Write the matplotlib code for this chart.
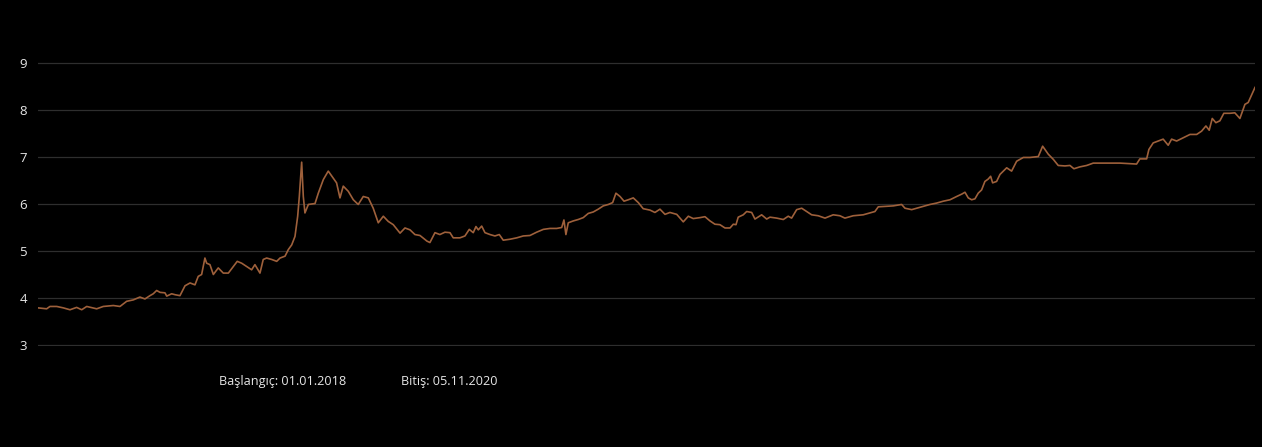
import matplotlib
matplotlib.use("Agg")
import matplotlib.pyplot as plt
import pandas as pd

# USD/TRY kuru, 01.01.2018 - 05.11.2020 (grafikten okunan yaklaşık değerler)
start_date = "2018-01-01"
end_date = "2020-11-05"

# gün (başlangıçtan itibaren) ve kur değerleri
days = [
    0.0, 7.4, 10.2, 16.0, 21.6, 27.3, 33.0, 37.3, 41.6, 50.1, 55.7, 64.3, 70.0,
    75.7, 81.4, 87.0, 91.3, 95.6, 98.4, 101.3, 104.2, 108.4, 109.9, 114.1, 117.0,
    121.2, 125.5, 129.8, 134.0, 136.8, 139.7, 141.1, 142.5, 144.0, 146.8, 149.7,
    153.9, 158.2, 162.5, 166.7, 170.1, 173.9, 178.2, 182.4, 185.2, 189.5, 192.3,
    195.2, 199.5, 203.8, 206.6, 210.9, 213.7, 216.6, 219.4, 221.7, 223.1, 225.1,
    226.5, 227.9, 230.8, 236.5, 239.3, 243.6, 247.8, 252.1, 254.9, 257.8, 260.6,
    264.9, 269.2, 273.4, 277.7, 282.0, 286.2, 290.5, 294.8, 299.0, 303.3, 309.1,
    313.3, 317.6, 321.8, 326.1,
    332.1, 334.6, 338.9, 343.1, 347.4, 351.7, 354.5, 360.2, 364.5, 368.2, 371.6,
    373.9, 375.9, 378.8, 381.6, 385.9, 390.1, 393.8, 397.2, 402.9, 408.7, 414.3,
    420.0, 425.7, 431.4, 437.1, 442.8, 447.1, 449.0, 450.7, 452.7, 457.0, 461.2,
    465.5, 469.8, 474.0, 478.3, 482.6, 486.9, 490.6, 493.4, 496.9, 500.3, 503.9,
    508.2, 512.5, 516.7, 522.5, 526.7, 531.0, 535.3, 539.5, 545.3, 550.9, 555.2,
    559.4, 565.2, 569.4, 573.7, 577.9, 582.2,
    586.5, 590.8, 593.6, 595.9, 597.8, 602.1, 605.0, 609.3, 612.1, 617.8, 622.1,
    624.9, 630.6, 636.3, 640.5, 643.4, 647.7, 652.0, 656.2, 660.5, 666.1, 671.9,
    678.9, 684.6, 688.9, 696.0, 704.5, 710.3, 714.5, 717.4, 724.5, 730.2, 737.3,
    740.2, 745.9, 750.1, 755.8, 761.5, 767.2, 772.9, 778.6, 784.3, 788.6, 791.4,
    794.2, 797.1, 799.9, 802.7, 805.6, 808.4, 811.2, 813.3, 815.0, 818.4,
    821.3, 827.0, 831.2, 835.5, 841.2, 846.9, 854.0, 857.7, 862.5, 866.8, 871.0,
    876.8, 881.0, 884.4, 889.5, 895.3, 900.9, 912.3, 923.7, 937.9, 940.7, 946.5,
    948.4, 952.1, 956.4, 960.6, 964.9, 967.8, 972.1, 977.8, 983.5, 989.2, 993.4,
    997.1, 999.9, 1002.5, 1005.6, 1009.0, 1012.4, 1017.6, 1021.8, 1026.1, 1030.4,
    1033.2, 1039.0,
]
rates = [
    3.79, 3.77, 3.82, 3.82, 3.79, 3.75, 3.80, 3.75, 3.82, 3.77, 3.82, 3.84, 3.82,
    3.93, 3.96, 4.02, 3.98, 4.05, 4.09, 4.16, 4.12, 4.11, 4.04, 4.09, 4.07,
    4.05, 4.26, 4.32, 4.28, 4.46, 4.50, 4.67, 4.85, 4.74, 4.71, 4.50,
    4.64, 4.53, 4.53, 4.67, 4.78, 4.74, 4.67, 4.60, 4.71, 4.53, 4.82,
    4.85, 4.82, 4.78, 4.85, 4.89, 5.03, 5.13, 5.31, 5.74, 6.16, 6.89,
    6.16, 5.81, 5.99, 6.01, 6.23, 6.52, 6.70, 6.55, 6.45, 6.13, 6.38,
    6.27, 6.09, 5.99, 6.16, 6.13, 5.91, 5.60, 5.74, 5.63, 5.56, 5.38,
    5.49, 5.45, 5.35, 5.33,
    5.21, 5.18, 5.39, 5.35, 5.40, 5.39, 5.28, 5.28, 5.32, 5.46, 5.39,
    5.52, 5.45, 5.53, 5.39, 5.35, 5.32, 5.35, 5.23, 5.25, 5.28, 5.32,
    5.33, 5.40, 5.46, 5.48, 5.48, 5.50, 5.66, 5.35, 5.60, 5.64, 5.67,
    5.71, 5.80, 5.83, 5.89, 5.96, 5.99, 6.03, 6.23, 6.16, 6.06, 6.09,
    6.13, 6.03, 5.90, 5.87, 5.82, 5.89, 5.78, 5.82, 5.78, 5.62, 5.74,
    5.69, 5.71, 5.73, 5.64, 5.57, 5.56,
    5.49, 5.49, 5.57, 5.56, 5.72, 5.77, 5.84, 5.82, 5.68, 5.77, 5.68,
    5.72, 5.70, 5.67, 5.74, 5.70, 5.88, 5.91, 5.84, 5.77, 5.75, 5.70,
    5.77, 5.75, 5.70, 5.75, 5.77, 5.81, 5.84, 5.94, 5.95, 5.96, 5.99,
    5.91, 5.88, 5.91, 5.95, 5.99, 6.02, 6.06, 6.09, 6.16, 6.21, 6.25,
    6.13, 6.09, 6.11, 6.23, 6.30, 6.48, 6.53, 6.59, 6.45, 6.48,
    6.63, 6.77, 6.70, 6.91, 6.99, 6.99, 7.01, 7.23, 7.06, 6.95, 6.82,
    6.81, 6.82, 6.75, 6.79, 6.82, 6.87, 6.87, 6.87, 6.85, 6.96, 6.96,
    7.16, 7.30, 7.34, 7.38, 7.25, 7.38, 7.34, 7.41, 7.48, 7.48, 7.55,
    7.66, 7.57, 7.82, 7.73, 7.77, 7.93, 7.93, 7.94, 7.82, 8.12,
    8.16, 8.48,
]
y_ticks = [3, 4, 5, 6, 7, 8, 9]

dates = pd.Timestamp(start_date) + pd.to_timedelta(days, unit="D")

W, H = 1262, 447
px_per_unit = 47.0
y_lo, y_hi = 2.98, 9.02
top_px = 63 - (y_hi - 9) * px_per_unit
bot_px = 345 + (3 - y_lo) * px_per_unit

fig = plt.figure(figsize=(W / 100, H / 100), dpi=100, facecolor="black")
ax = fig.add_axes([38 / W, 1 - bot_px / H, (1255 - 38) / W, (bot_px - top_px) / H])
ax.set_facecolor("black")

ax.plot(dates, rates, color="#9e603b", linewidth=1.2)

ax.set_xlim(dates[0], dates[-1])
ax.set_ylim(y_lo, y_hi)
ax.set_yticks(y_ticks)
ax.set_xticks([])
ax.grid(axis="y", color="#2e2e2e", linewidth=0.9)
ax.set_axisbelow(True)
ax.tick_params(axis="y", length=0, pad=8, labelcolor="#e6e6e6", labelsize=9.5)
for lbl in ax.get_yticklabels():
    lbl.set_fontfamily("Open Sans")
for side in ax.spines.values():
    side.set_visible(False)

# başlangıç / bitiş notları
fig.text(219 / W, 1 - 382 / H, "Başlangıç: " + pd.Timestamp(start_date).strftime("%d.%m.%Y"),
         color="#e6e6e6", fontsize=9.1, family="Open Sans", va="center", ha="left")
fig.text(401 / W, 1 - 382 / H, "Bitiş: " + pd.Timestamp(end_date).strftime("%d.%m.%Y"),
         color="#e6e6e6", fontsize=9.1, family="Open Sans", va="center", ha="left")

fig.savefig("out.png", dpi=100, facecolor="black")
